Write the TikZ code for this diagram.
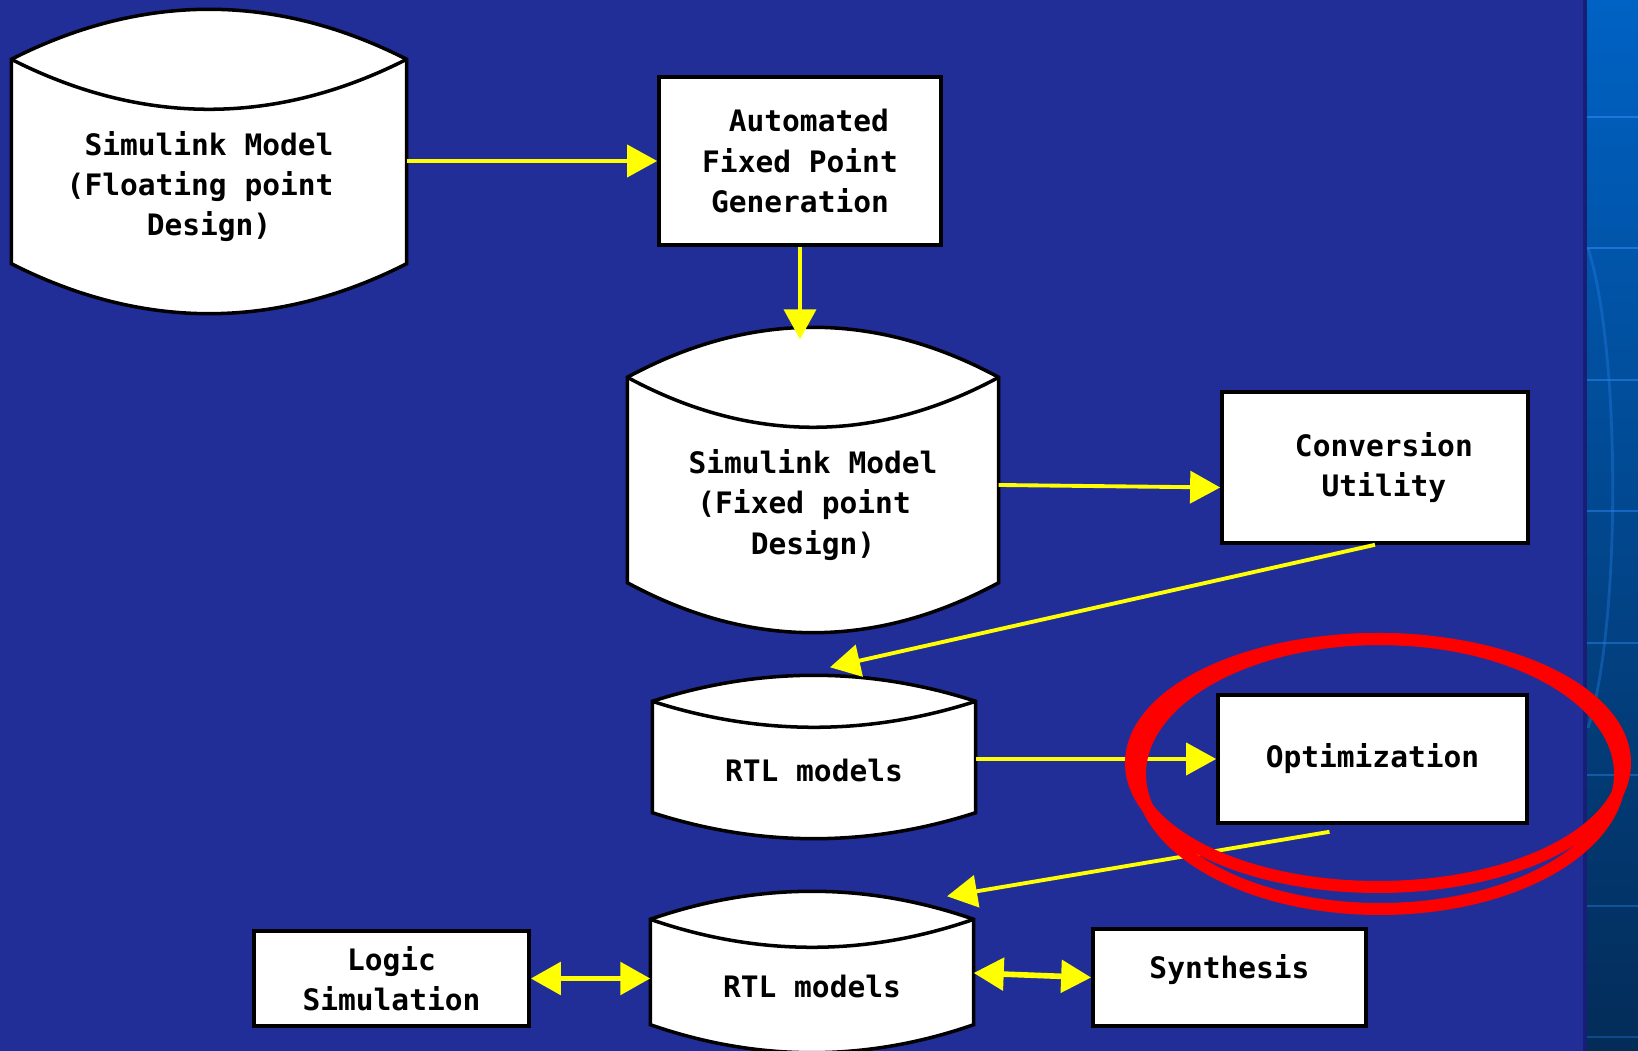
\documentclass[tikz,border=0pt]{standalone}
\usepackage{fontspec}
\setmonofont{DejaVu Sans Mono}
\usepackage{tikz}
\usetikzlibrary{arrows.meta, calc}

\definecolor{slideblue}{RGB}{34,46,152}
\definecolor{stripetop}{RGB}{0,98,196}
\definecolor{stripebottom}{RGB}{3,44,88}
\definecolor{stripeline}{RGB}{40,130,235}
\definecolor{stripeshadow}{RGB}{24,30,118}
\definecolor{flowyellow}{RGB}{255,255,0}

\newcommand{\boxfont}{\ttfamily\bfseries\fontsize{8.4}{11.4}\selectfont}

\pgfdeclarelayer{backdrop}
\pgfdeclarelayer{shapes}
\pgfsetlayers{backdrop,shapes,main}

% name, x, y, width, height, bulge, text
\newcommand{\drum}[7]{%
  \node[drumtext, minimum width=#4*0.01cm, minimum height=#5*0.01cm] (#1) at (#2,#3) {#7};
  \coordinate (#1top) at ($(#1.north)+(0,2*#6)$);
  \begin{pgfonlayer}{shapes}
    \filldraw[drumline, fill=white] ($(#1.north west)+(0,#6)$) .. controls +(#4/3,4*#6/3) and +(-#4/3,4*#6/3) .. ($(#1.north east)+(0,#6)$)
      -- (#1.south east) .. controls +(-#4/3,-4*#6/3) and +(#4/3,-4*#6/3) .. (#1.south west) -- cycle;
    \draw[drumline] ($(#1.north west)+(0,#6)$) .. controls +(#4/3,-4*#6/3) and +(-#4/3,-4*#6/3) .. ($(#1.north east)+(0,#6)$);
  \end{pgfonlayer}
}

\begin{document}
\begin{tikzpicture}[x=0.01cm, y=0.01cm,
    block/.style={draw=black, fill=white, line width=1pt, inner sep=0pt, align=center, font=\boxfont},
    drumtext/.style={inner sep=0pt, align=center, font=\boxfont},
    drumline/.style={draw=black, line width=1pt},
    flow/.style={draw=flowyellow, line width=1.1pt, -{Triangle[length=0.3cm, width=0.32cm]}},
    twoway/.style={draw=flowyellow, line width=1.6pt, {Triangle[length=0.3cm, width=0.32cm]}-{Triangle[length=0.3cm, width=0.32cm]}},
    ring/.style={draw=red, line width=0.12cm}]
    \useasboundingbox (0,0) rectangle (1638,1051);

    \begin{pgfonlayer}{backdrop}
        \fill[slideblue] (0,0) rectangle (1587,1051);
        \shade[top color=stripetop, bottom color=stripebottom] (1587,0) rectangle (1638,1051);
        \foreach \yy/\op in {934/0.7, 803/0.65, 671/0.6, 540/0.55, 408/0.5, 276/0.45, 145/0.4, 14/0.35}
            \draw[stripeline, line width=0.6pt, opacity=\op] (1587,\yy) -- (1638,\yy);
        \draw[stripeline, line width=0.8pt, opacity=0.35] (1588,803) .. controls (1621,700) and (1621,425) .. (1588,323);
        \fill[stripeshadow] (1583,0) rectangle (1587,1051);
    \end{pgfonlayer}

    \drum{fpmodel}{209}{864.5}{394}{153}{50}{Simulink Model\\(Floating point\hphantom{x}\\Design)}
    \node[block, minimum width=2.82cm, minimum height=1.68cm] at (800, 890)   (autofix) {\hphantom{x}Automated\\Fixed Point\\Generation};
    \drum{fxmodel}{813}{546}{370}{154}{50}{Simulink Model\\(Fixed point\hphantom{x}\\Design)}
    \node[block, minimum width=3.06cm, minimum height=1.51cm] at (1375, 583.5) (convert) {\hphantom{x}Conversion\\\hphantom{x}Utility};
    \drum{rtla}{814}{281}{322}{84}{26}{RTL models}
    \node[block, minimum width=3.09cm, minimum height=1.28cm] at (1372.5, 292) (optim) {Optimization};
    \drum{rtlb}{812}{65}{322}{76}{28}{RTL models}
    \node[block, minimum width=2.75cm, minimum height=0.95cm] at (391.5, 72.5) (logic) {Logic\\Simulation};
    \node[block, minimum width=2.73cm, minimum height=0.97cm, text depth=0.22cm] at (1229.5, 73.5) (synth) {Synthesis};

    \draw[flow] (fpmodel.east |- autofix.west) -- (autofix.west);
    \draw[flow, shorten >=-0.12cm] (autofix.south) -- (autofix.south |- fxmodeltop);
    \draw[flow] ([yshift=0.2cm]fxmodel.east) -- ([yshift=-0.2cm]convert.west);
    \draw[flow] (convert.south) -- ([xshift=0.16cm, yshift=0.08cm]rtlatop);
    \draw[flow] (rtla.east |- optim.west) -- (optim.west);
    \draw[flow] ([xshift=-0.43cm, yshift=-0.07cm]optim.south) -- ([xshift=1.35cm, yshift=-0.05cm]rtlbtop);
    \draw[twoway] (logic.east) -- (logic.east -| rtlb.west);
    \draw[twoway] ([yshift=0.13cm]rtlb.east) -- (synth.west);

    \draw[ring] (1378,288) ellipse [x radius=247, y radius=124];
    \draw[ring] (1380,277) ellipse [x radius=240, y radius=135];
\end{tikzpicture}
\end{document}
